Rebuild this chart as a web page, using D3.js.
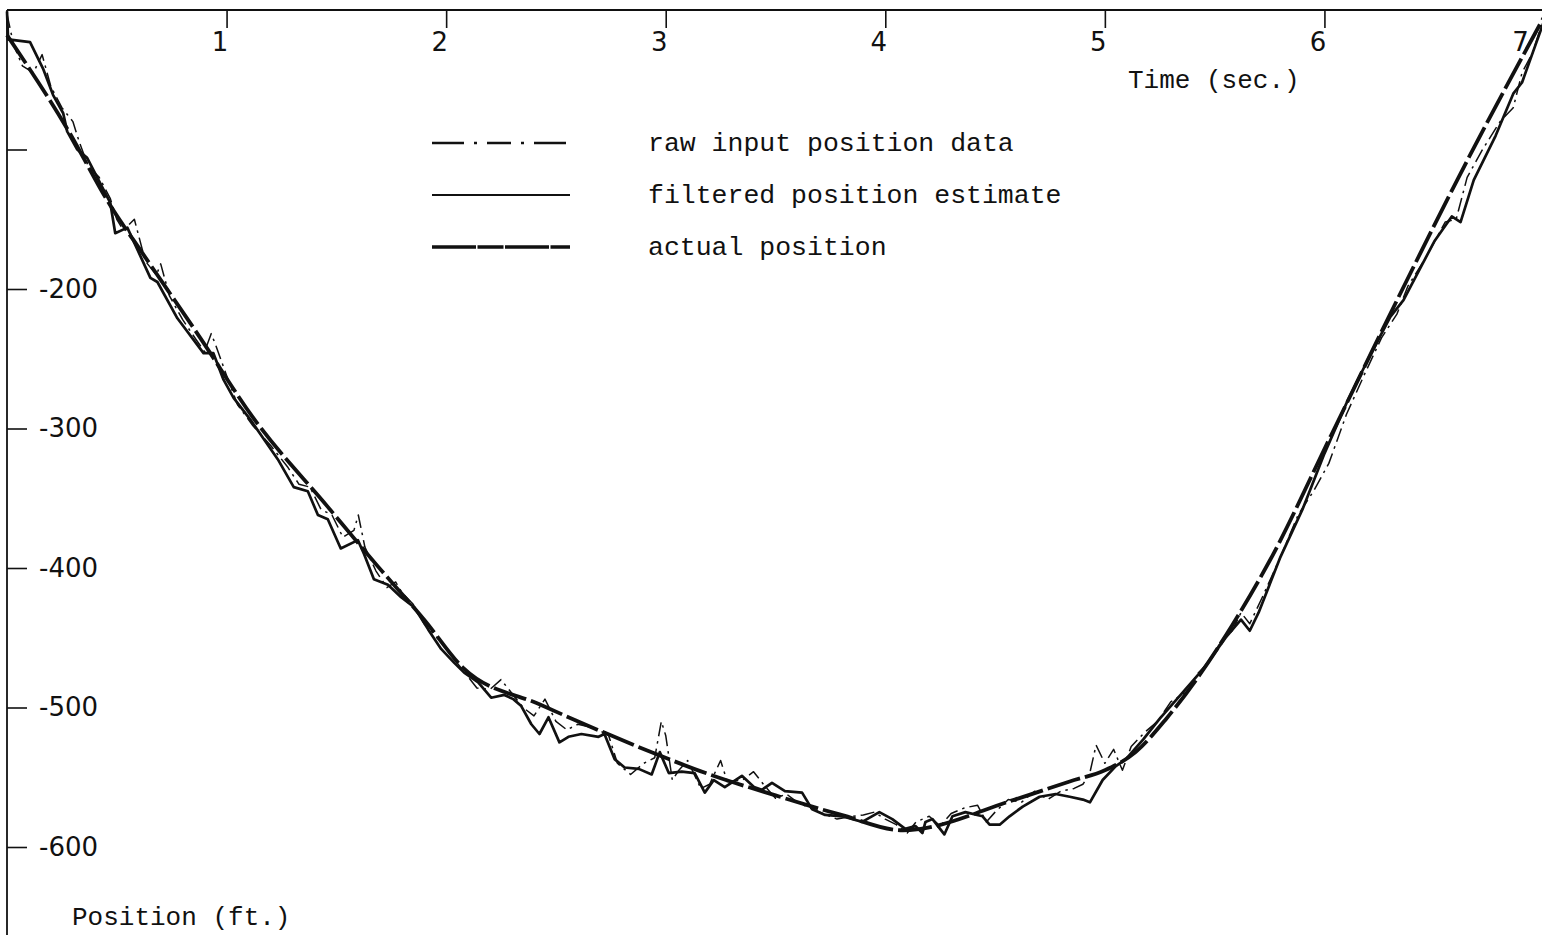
<!DOCTYPE html>
<html><head><meta charset="utf-8">
<script src="https://cdn.jsdelivr.net/npm/d3@7"></script>
<style>
html,body{margin:0;padding:0;background:#fff;}
svg{display:block;}
.mono{font-family:"Liberation Mono","DejaVu Sans Mono",monospace;}
.num{font-family:"DejaVu Sans","Liberation Sans",sans-serif;}
</style></head>
<body>
<script>
// ---- data (time in sec, position in ft) ----
const timeTicks = [1, 2, 3, 4, 5, 6, 7];
const positionTicks = [-100, -200, -300, -400, -500, -600];
const positionTickLabels = ["", "-200", "-300", "-400", "-500", "-600"];

const actualT = [0, 0.27, 0.47, 0.62, 0.88, 1.12, 1.46, 1.69, 1.9, 2.08, 2.43, 2.72, 2.95, 3.20, 3.50, 3.80, 4.08, 4.59, 4.84, 5.0, 5.14, 5.28, 5.43, 5.58, 5.75, 6.03, 6.34, 6.66, 7.0];
const actualP = [-18, -84, -140, -175, -235, -292, -356, -399, -437, -472, -498, -518, -533, -548, -563, -577, -588, -566, -553, -545, -532, -508, -477, -441, -395, -305, -205, -105, -5];

const filteredT = [0, 0.005, 0.105, 0.164, 0.21, 0.256, 0.274, 0.32, 0.365, 0.47, 0.493, 0.548, 0.653, 0.685, 0.776, 0.895, 0.94, 0.986, 1.032, 1.11, 1.233, 1.306, 1.37, 1.416, 1.461, 1.52, 1.598, 1.626, 1.671, 1.735, 1.795, 1.854, 1.918, 1.977, 2.037, 2.082, 2.146, 2.205, 2.265, 2.306, 2.342, 2.388, 2.425, 2.466, 2.516, 2.557, 2.616, 2.694, 2.721, 2.767, 2.813, 2.877, 2.936, 2.973, 3.014, 3.073, 3.132, 3.178, 3.219, 3.269, 3.347, 3.402, 3.438, 3.484, 3.543, 3.621, 3.667, 3.726, 3.804, 3.895, 3.973, 4.032, 4.091, 4.137, 4.169, 4.183, 4.215, 4.269, 4.306, 4.365, 4.443, 4.475, 4.521, 4.566, 4.626, 4.703, 4.776, 4.84, 4.9, 4.932, 4.99, 5.05, 5.096, 5.174, 5.25, 5.35, 5.45, 5.55, 5.62, 5.66, 5.7, 5.8, 5.9, 6.0, 6.1, 6.2, 6.3, 6.36, 6.4, 6.5, 6.58, 6.62, 6.68, 6.78, 6.86, 6.9, 6.95, 7.0];
const filteredP = [-1, -21, -23, -42, -61, -74, -87, -100, -106, -138, -160, -156, -192, -195, -221, -246, -246, -265, -278, -294, -322, -342, -345, -362, -365, -386, -380, -390, -408, -412, -421, -428, -444, -458, -468, -475, -482, -493, -491, -494, -499, -512, -519, -507, -525, -521, -519, -521, -519, -537, -543, -544, -548, -532, -547, -546, -547, -561, -552, -557, -549, -557, -559, -554, -560, -561, -573, -577, -578, -582, -575, -580, -587, -585, -590, -582, -580, -591, -578, -575, -578, -584, -584, -578, -571, -564, -562, -564, -566, -568, -552, -542, -537, -523, -508, -490, -472, -450, -437, -445, -432, -392, -358, -318, -282, -250, -220, -208, -196, -166, -148, -152, -122, -90, -60, -52, -30, -8];

const rawT = [0, 0.03, 0.07, 0.12, 0.16, 0.2, 0.25, 0.3, 0.33, 0.37, 0.42, 0.47, 0.5, 0.53, 0.58, 0.63, 0.68, 0.7, 0.74, 0.8, 0.86, 0.9, 0.93, 0.95, 1.0, 1.05, 1.12, 1.2, 1.28, 1.33, 1.38, 1.43, 1.48, 1.53, 1.58, 1.6, 1.63, 1.68, 1.73, 1.77, 1.8, 1.85, 1.9, 1.95, 2.0, 2.05, 2.1, 2.14, 2.2, 2.25, 2.3, 2.35, 2.4, 2.45, 2.5, 2.55, 2.6, 2.68, 2.74, 2.78, 2.84, 2.9, 2.95, 2.98, 3.0, 3.03, 3.06, 3.1, 3.16, 3.2, 3.25, 3.28, 3.35, 3.4, 3.45, 3.5, 3.55, 3.6, 3.7, 3.78, 3.85, 3.9, 3.95, 4.0, 4.05, 4.1, 4.14, 4.2, 4.25, 4.3, 4.36, 4.42, 4.46, 4.5, 4.56, 4.62, 4.68, 4.74, 4.8, 4.86, 4.9, 4.93, 4.96, 5.0, 5.04, 5.08, 5.12, 5.18, 5.24, 5.3, 5.38, 5.42, 5.47, 5.52, 5.58, 5.62, 5.66, 5.72, 5.8, 5.88, 5.95, 6.02, 6.1, 6.18, 6.26, 6.33, 6.38, 6.46, 6.55, 6.6, 6.65, 6.72, 6.8, 6.86, 6.9, 6.95, 7.0];
const rawP = [-3, -25, -40, -45, -32, -55, -70, -80, -95, -112, -120, -135, -150, -158, -150, -180, -190, -182, -205, -222, -236, -245, -232, -240, -262, -283, -298, -312, -328, -340, -342, -358, -362, -378, -373, -362, -385, -402, -414, -410, -418, -426, -440, -448, -458, -468, -478, -486, -487, -480, -490, -500, -506, -494, -510, -516, -512, -515, -520, -540, -548, -540, -536, -510, -520, -552, -545, -538, -558, -555, -538, -553, -552, -546, -556, -565, -562, -568, -575, -580, -578, -577, -575, -580, -584, -590, -582, -578, -585, -576, -572, -570, -582, -575, -566, -568, -560, -566, -560, -558, -555, -548, -527, -540, -530, -545, -528, -518, -510, -496, -488, -476, -468, -455, -445, -432, -440, -420, -392, -362, -345, -325, -290, -262, -235, -218, -198, -178, -152, -150, -120, -100, -80, -70, -45, -30, -5];

const legendLabels = ["raw input position data", "filtered position estimate", "actual position"];

// ---- drawing ----
const W = 1542, H = 942;
const svg = d3.select("body").append("svg").attr("width", W).attr("height", H);
const x = d3.scaleLinear().domain([0, 7]).range([7, 1544]);
const y = d3.scaleLinear().domain([0, -600]).range([10, 847]);
const ink = "#111";

// top axis
const topAxis = d3.axisBottom(x).tickValues(timeTicks).tickSize(18).tickSizeOuter(0).tickPadding(5).tickFormat(d3.format("d"));
const gTop = svg.append("g").attr("transform", `translate(0,${y(0)})`).call(topAxis);
gTop.select(".domain").attr("d", `M${x(0)},0H${W}`).attr("stroke", ink).attr("stroke-width", 2);
gTop.selectAll(".tick line").attr("stroke", ink).attr("stroke-width", 1.6);
gTop.selectAll(".tick text").attr("class", "num").attr("font-size", 26).attr("fill", ink)
  .attr("dx", d => d === 7 ? -24 : -7);

// left axis
const leftAxis = d3.axisRight(y).tickValues(positionTicks).tickSize(20).tickSizeOuter(0).tickPadding(12)
  .tickFormat((d, i) => positionTickLabels[i]);
const gLeft = svg.append("g").attr("transform", `translate(${x(0)},0)`).call(leftAxis);
gLeft.select(".domain").attr("d", `M0,${y(0)}V935`).attr("stroke", ink).attr("stroke-width", 1.8);
gLeft.selectAll(".tick line").attr("stroke", ink).attr("stroke-width", 1.6);
gLeft.selectAll(".tick text").attr("class", "num").attr("font-size", 26).attr("fill", ink).attr("text-anchor", "start");

// axis titles
svg.append("text").attr("class", "mono").attr("x", 1128).attr("y", 88).attr("font-size", 26).attr("fill", ink).text("Time (sec.)");
svg.append("text").attr("class", "mono").attr("x", 72).attr("y", 925).attr("font-size", 26).attr("fill", ink).text("Position (ft.)");

// series
const mk = (T, P) => T.map((t, i) => [t, P[i]]);
const line = d3.line().x(d => x(d[0])).y(d => y(d[1]));
const smooth = d3.line().x(d => x(d[0])).y(d => y(d[1])).curve(d3.curveMonotoneX);

svg.append("path").datum(mk(actualT, actualP)).attr("d", smooth)
  .attr("fill", "none").attr("stroke", ink).attr("stroke-width", 3.8).attr("stroke-dasharray", "34,5");
svg.append("path").datum(mk(rawT, rawP)).attr("d", line)
  .attr("fill", "none").attr("stroke", ink).attr("stroke-width", 1.5).attr("stroke-dasharray", "14,5,2.5,5").attr("stroke-linejoin", "round");
svg.append("path").datum(mk(filteredT, filteredP)).attr("d", line)
  .attr("fill", "none").attr("stroke", ink).attr("stroke-width", 2.7).attr("stroke-linejoin", "round");

// legend
const legY = [143, 195, 247];
const legStyles = [
  {w: 2.4, dash: "32,10,3,10,24,10,3,10"},
  {w: 2, dash: null},
  {w: 3.6, dash: "44,1.5,26,1.5"}
];
legendLabels.forEach((lab, i) => {
  svg.append("line").attr("x1", 432).attr("x2", 570).attr("y1", legY[i]).attr("y2", legY[i])
    .attr("stroke", ink).attr("stroke-width", legStyles[i].w).attr("stroke-dasharray", legStyles[i].dash);
  svg.append("text").attr("class", "mono").attr("x", 648).attr("y", legY[i] + 8).attr("font-size", 26.5).attr("fill", ink).text(lab);
});
</script>
</body></html>
